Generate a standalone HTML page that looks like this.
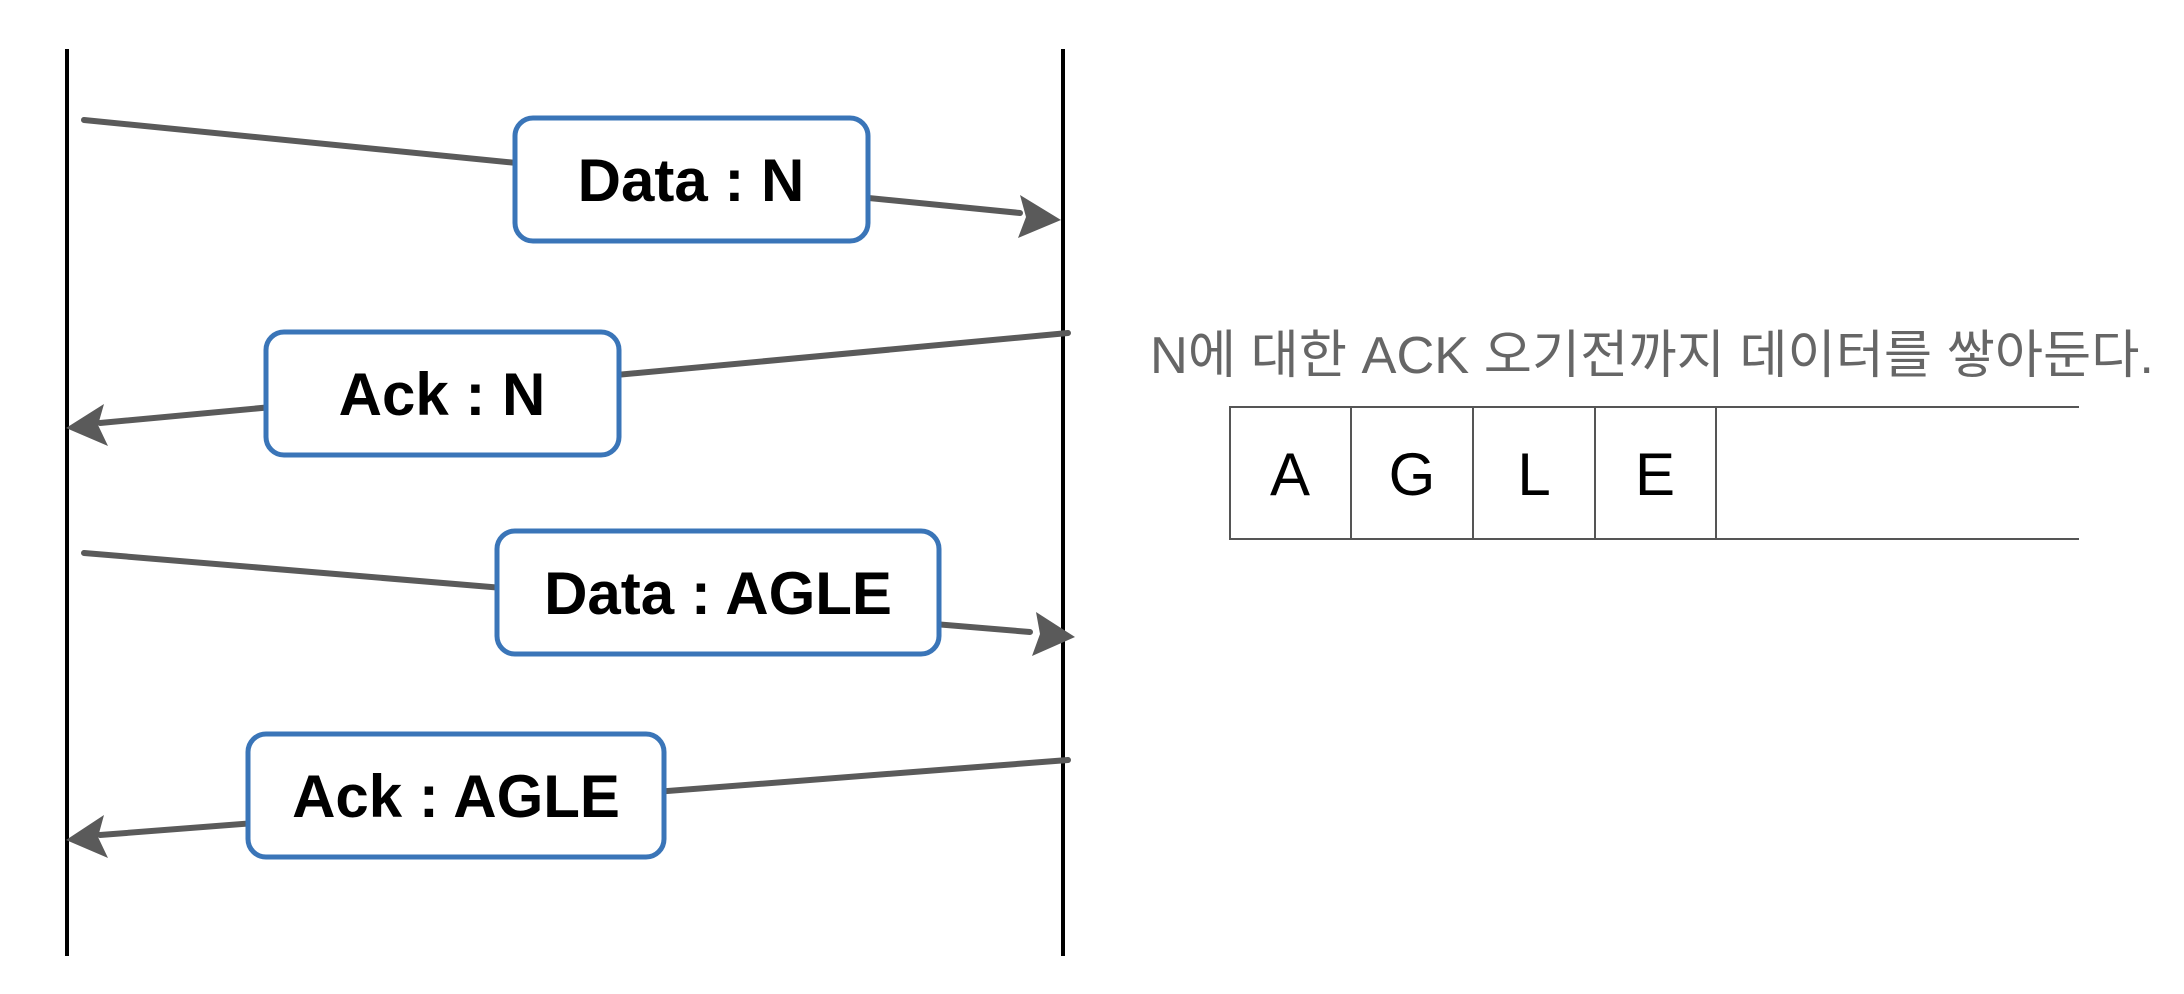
<!DOCTYPE html>
<html><head><meta charset="utf-8"><style>
html,body{margin:0;padding:0;background:#fff;width:2184px;height:994px;overflow:hidden}
</style></head><body>
<svg width="2184" height="994" viewBox="0 0 2184 994" xmlns="http://www.w3.org/2000/svg">
<line x1="67" y1="49" x2="67" y2="956" stroke="#000" stroke-width="4"/>
<line x1="1063" y1="49" x2="1063" y2="956" stroke="#000" stroke-width="4"/>
<g stroke="#5a5a5a" stroke-width="6" stroke-linecap="round" fill="none">
<line x1="84" y1="120" x2="1020" y2="213"/>
<line x1="1068" y1="333" x2="100" y2="423"/>
<line x1="84" y1="553" x2="1030" y2="632"/>
<line x1="1068" y1="760" x2="100" y2="835"/>
</g>
<g fill="#5a5a5a">
<polygon points="1061,220 1020,195 1026,217 1018,238"/>
<polygon points="66,428 104,404 98,425 108,446"/>
<polygon points="1075,637 1036,612 1040,634 1032,656"/>
<polygon points="66,840 104,815 98,837 108,858"/>
</g>
<g fill="#fff" stroke="#3a75b8" stroke-width="5">
<rect x="515" y="118" width="353" height="123" rx="18"/>
<rect x="266" y="332" width="353" height="123" rx="18"/>
<rect x="497" y="531" width="442" height="123" rx="18"/>
<rect x="248" y="734" width="416" height="123" rx="18"/>
</g>
<g font-family="Liberation Sans, sans-serif" font-weight="bold" font-size="60" fill="#000" text-anchor="middle">
<text x="691" y="201">Data : N</text>
<text x="442" y="415">Ack : N</text>
<text x="718" y="614">Data : AGLE</text>
<text x="456" y="817">Ack : AGLE</text>
</g>
<text x="1150" y="373" font-family="Liberation Sans, 'Noto Sans CJK KR', sans-serif" font-size="52" fill="#666" textLength="1004" lengthAdjust="spacingAndGlyphs">N에 대한  ACK 오기전까지 데이터를 쌓아둔다.</text>
<g stroke="#555" stroke-width="2">
<line x1="1229" y1="407" x2="2079" y2="407"/>
<line x1="1229" y1="539" x2="2079" y2="539"/>
<line x1="1230" y1="407" x2="1230" y2="539"/>
<line x1="1351" y1="407" x2="1351" y2="539"/>
<line x1="1473" y1="407" x2="1473" y2="539"/>
<line x1="1595" y1="407" x2="1595" y2="539"/>
<line x1="1716" y1="407" x2="1716" y2="539"/>
</g>
<g font-family="Liberation Sans, sans-serif" font-size="60" fill="#000" text-anchor="middle">
<text x="1290" y="495">A</text>
<text x="1412" y="495">G</text>
<text x="1534" y="495">L</text>
<text x="1655" y="495">E</text>
</g>
</svg>
</body></html>
